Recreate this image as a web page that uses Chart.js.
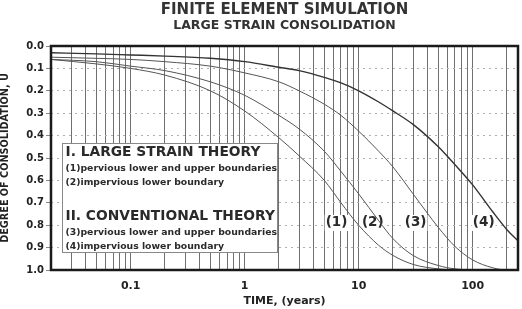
<!DOCTYPE html>
<html><head><meta charset="utf-8">
<script src="https://cdn.jsdelivr.net/npm/chart.js@4/dist/chart.umd.min.js"></script>
<style>html,body{margin:0;padding:0;background:#fff}#wrap{width:522px;height:309px;position:relative}</style>
</head><body><div id="wrap"><canvas id="c"></canvas></div>
<script>
// ---- data ----
const times = [0.02,0.05,0.1,0.2,0.5,1,2,3,5,7,10,15,20,30,50,70,100,150,200,250];
const curve1U = [0.06,0.08,0.10,0.13,0.20,0.29,0.41,0.49,0.60,0.70,0.80,0.89,0.935,0.975,0.995,1.0,1.0,1.0,1.0,1.0];
const curve2U = [0.06,0.07,0.09,0.11,0.16,0.22,0.31,0.37,0.47,0.56,0.66,0.78,0.86,0.935,0.98,0.995,1.0,1.0,1.0,1.0];
const curve3U = [0.05,0.055,0.06,0.07,0.09,0.12,0.16,0.20,0.26,0.31,0.38,0.47,0.54,0.66,0.81,0.895,0.955,0.99,1.0,1.0];
const curve4U = [0.03,0.035,0.04,0.045,0.055,0.07,0.095,0.11,0.14,0.165,0.20,0.25,0.29,0.35,0.45,0.53,0.62,0.74,0.82,0.87];
const seriesNames = ['(1)','(2)','(3)','(4)'];
const gridTimes = [0.02,0.03,0.04,0.05,0.06,0.07,0.08,0.09,
  0.1,0.2,0.3,0.4,0.5,0.6,0.7,0.8,0.9,
  1,2,3,4,5,6,7,8,9,
  10,20,30,40,50,60,70,80,90,
  100,200];
const xTickLabels = [0.1,1,10,100];
const curveLabelTimes = [6.4,13.3,31.6,125];
const curveLabelU = 0.79;
const legendLines = [
  {text:'I. LARGE STRAIN THEORY', big:true, dy:9},
  {text:'(1)pervious lower and upper boundaries', big:false, dy:25},
  {text:'(2)impervious lower boundary', big:false, dy:39},
  {text:'II. CONVENTIONAL THEORY', big:true, dy:73},
  {text:'(3)pervious lower and upper boundaries', big:false, dy:89},
  {text:'(4)impervious lower boundary', big:false, dy:103}
];

const FONT = "'DejaVu Sans', sans-serif";
Chart.defaults.font.family = FONT;
Chart.defaults.font.weight = 'bold';
Chart.defaults.color = '#222';

function pts(u){ return times.map((t,i)=>({x:t, y:u[i]})); }

const annot = {
  id:'annot',
  beforeDatasetsDraw(chart){
    const {ctx, chartArea:a, scales:{x,y}} = chart;
    ctx.save();
    const bx = Math.round(a.left+11)+0.5, by = Math.round(a.top+97)+0.5, bw = 215, bh = 109;
    ctx.fillStyle = '#fff'; ctx.fillRect(bx,by,bw,bh);
    ctx.strokeStyle = '#888'; ctx.lineWidth = 1; ctx.strokeRect(bx,by,bw,bh);
    ctx.fillStyle = '#2a2a2a'; ctx.textBaseline = 'middle'; ctx.textAlign = 'left';
    legendLines.forEach(l=>{
      ctx.font = 'bold ' + (l.big ? '13.8px ' : '9.3px ') + FONT;
      ctx.fillText(l.text, bx+3, by+l.dy);
    });
    ctx.font = 'bold 13.5px ' + FONT;
    ctx.textAlign = 'center';
    curveLabelTimes.forEach((t,i)=>{
      const px = x.getPixelForValue(t), py = y.getPixelForValue(curveLabelU);
      const w = ctx.measureText(seriesNames[i]).width;
      ctx.fillStyle = '#fff'; ctx.fillRect(px-w/2-1, py-8, w+2, 16);
      ctx.fillStyle = '#2a2a2a'; ctx.fillText(seriesNames[i], px, py);
    });
    ctx.restore();
  },
  afterDraw(chart){
    const {ctx, chartArea:a} = chart;
    ctx.save();
    ctx.strokeStyle = '#1a1a1a'; ctx.lineWidth = 2.5;
    ctx.strokeRect(a.left, a.top, a.right-a.left, a.bottom-a.top);
    ctx.restore();
  }
};

const lineStyle = (u, w, c) => ({
  data: pts(u), borderColor: c, borderWidth: w, pointRadius: 0,
  cubicInterpolationMode: 'monotone', fill: false
});

new Chart(document.getElementById('c'), {
  type: 'line',
  data: { datasets: [
    Object.assign({label: seriesNames[0]}, lineStyle(curve1U, 1, '#555')),
    Object.assign({label: seriesNames[1]}, lineStyle(curve2U, 1, '#555')),
    Object.assign({label: seriesNames[2]}, lineStyle(curve3U, 1, '#555')),
    Object.assign({label: seriesNames[3]}, lineStyle(curve4U, 1.4, '#333'))
  ]},
  options: {
    responsive: true, maintainAspectRatio: false, animation: false,
    layout: { padding: { left: 0, right: 4, top: 0, bottom: 0 } },
    plugins: {
      legend: { display: false },
      tooltip: { enabled: false },
      title: { display: true, text: 'FINITE ELEMENT SIMULATION', fullSize: false,
        font: { size: 15, weight: 'bold', lineHeight: 1.0 }, color: '#333', padding: { top: 3, bottom: 0 } },
      subtitle: { display: true, text: 'LARGE STRAIN CONSOLIDATION', fullSize: false,
        font: { size: 12.5, weight: 'bold', lineHeight: 1.0 }, color: '#333', padding: { top: 1, bottom: 14.5 } }
    },
    scales: {
      x: {
        type: 'logarithmic', min: 0.02, max: 250,
        afterBuildTicks(s){ s.ticks = gridTimes.map(v=>({value:v})); },
        afterFit(s){ s.height = 39; },
        ticks: { autoSkip: false, maxRotation: 0, padding: 10, color: '#222',
          font: { size: 11, weight: 'bold' },
          callback: (v)=> xTickLabels.includes(v) ? String(v) : '' },
        grid: { color: '#707070', lineWidth: 1, drawTicks: false },
        border: { display: false },
        title: { display: true, text: 'TIME, (years)', color: '#222',
          font: { size: 11, weight: 'bold', lineHeight: 1.2 }, padding: { top: 0, bottom: 1 } }
      },
      y: {
        min: 0, max: 1, reverse: true,
        afterFit(s){ s.width = 51; },
        ticks: { stepSize: 0.1, padding: 2, color: '#222', font: { size: 10, weight: 'bold' },
          callback: (v)=> Number(v).toFixed(1) },
        grid: { color: '#b0b0b0', lineWidth: 1, tickLength: 5, tickColor: '#888', tickBorderDash: [] },
        border: { display: false, dash: [2,4] },
        title: { display: true, text: 'DEGREE OF CONSOLIDATION, U', color: '#222',
          font: { size: 9.7, weight: 'bold', lineHeight: 1.2 }, padding: { top: 0, bottom: 2 } }
      }
    }
  },
  plugins: [annot]
});
</script></body></html>
